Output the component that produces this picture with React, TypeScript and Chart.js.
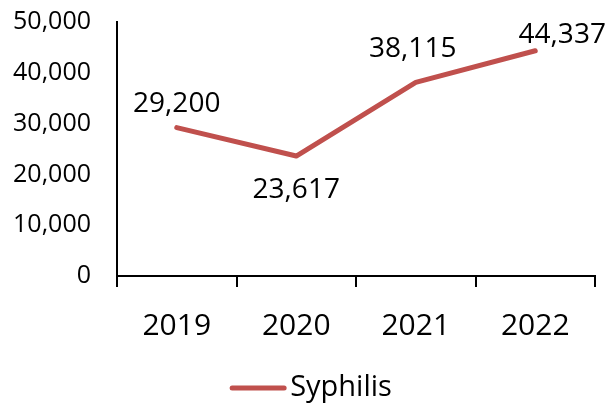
import React, { useEffect, useRef } from "react";
import { Chart, registerables } from "chart.js";

Chart.register(...registerables);

const categories = ["2019", "2020", "2021", "2022"];
const syphilisValues = [29200, 23617, 38115, 44337];
const seriesName = "Syphilis";
const yTickMax = 50000;
const yTickStep = 10000;

const LINE_COLOR = "#C0504D";
const FONT = "'Open Sans', 'Noto Sans', sans-serif";
// label placement offsets (pixels, relative to point) – styling only
const LABEL_OFFSETS: [number, number][] = [
  [0, -24],
  [0, 34],
  [-3, -33],
  [27, -16],
];

const fmt = (v: number) => v.toLocaleString("en-US");

const dataLabelPlugin = {
  id: "dataLabels",
  afterDatasetsDraw(chart: any) {
    const ctx = chart.ctx;
    const meta = chart.getDatasetMeta(0);
    ctx.save();
    ctx.font = `28px ${FONT}`;
    ctx.fillStyle = "#000";
    ctx.textAlign = "center";
    ctx.textBaseline = "middle";
    meta.data.forEach((pt: any, i: number) => {
      const [dx, dy] = LABEL_OFFSETS[i] || [0, -24];
      ctx.fillText(fmt(syphilisValues[i]), pt.x + dx, pt.y + dy);
    });
    ctx.restore();
  },
};

const legendPlugin = {
  id: "customLegend",
  afterDraw(chart: any) {
    const ctx = chart.ctx;
    const cx = (chart.chartArea.left + chart.chartArea.right) / 2;
    const y = chart.height - 21;
    ctx.save();
    ctx.font = `29px ${FONT}`;
    const tw = ctx.measureText(seriesName).width;
    const lineW = 56;
    const gap = 4;
    const total = lineW + gap + tw;
    const x0 = cx - total / 2 - 45;
    ctx.strokeStyle = LINE_COLOR;
    ctx.lineWidth = 5;
    ctx.lineCap = "round";
    ctx.beginPath();
    ctx.moveTo(x0 + 2, y);
    ctx.lineTo(x0 + lineW - 2, y);
    ctx.stroke();
    ctx.fillStyle = "#000";
    ctx.textAlign = "left";
    ctx.textBaseline = "middle";
    ctx.fillText(seriesName, x0 + lineW + gap, y);
    ctx.restore();
  },
};

export default function App() {
  const ref = useRef<HTMLCanvasElement>(null);
  useEffect(() => {
    if (!ref.current) return;
    const chart = new Chart(ref.current, {
      type: "line",
      data: {
        labels: categories,
        datasets: [
          {
            label: seriesName,
            data: syphilisValues,
            borderColor: LINE_COLOR,
            backgroundColor: LINE_COLOR,
            borderWidth: 5,
            pointRadius: 0,
            tension: 0,
            borderCapStyle: "round",
            borderJoinStyle: "round",
          },
        ],
      },
      options: {
        animation: false,
        responsive: false,
        maintainAspectRatio: false,
        layout: { padding: { top: 22, right: 11, left: 0, bottom: 53 } },
        plugins: {
          tooltip: { enabled: false },
          legend: { display: false },
        },
        scales: {
          x: {
            offset: true,
            grid: {
              display: true,
              offset: true,
              drawOnChartArea: false,
              drawTicks: true,
              tickLength: 11,
              color: "#000",
              lineWidth: 2,
            },
            border: { display: true, color: "#000", width: 2 },
            ticks: {
              color: "#000",
              font: { family: FONT, size: 30 },
              padding: 21,
              maxRotation: 0,
            },
            afterFit: (s: any) => {
              s.height = 80;
            },
          },
          y: {
            min: 0,
            max: yTickMax,
            grid: { display: false, drawTicks: false },
            border: { display: true, color: "#000", width: 2 },
            ticks: {
              stepSize: yTickStep,
              color: "#000",
              font: { family: FONT, size: 25 },
              padding: 26,
              callback: (v: any) => fmt(Number(v)),
            },
            afterFit: (s: any) => {
              s.width = 117;
              s.paddingTop = 0;
              s.paddingBottom = 0;
            },
          },
        },
      },
      plugins: [dataLabelPlugin, legendPlugin],
    });
    return () => chart.destroy();
  }, []);
  return (
    <div style={{ position: "fixed", left: 0, top: 0, width: 606, height: 409, background: "#fff" }}>
      <canvas ref={ref} width={606} height={409} style={{ width: 606, height: 409, display: "block" }} />
    </div>
  );
}
